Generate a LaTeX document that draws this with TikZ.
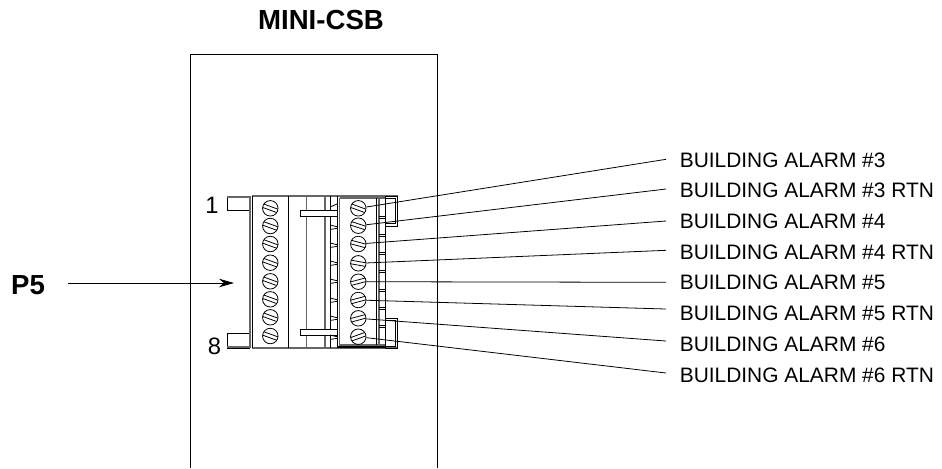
\documentclass[tikz,border=0pt]{standalone}
\usepackage{fontspec}
\setmainfont{Liberation Sans}
\usetikzlibrary{arrows.meta}
\begin{document}
\begin{tikzpicture}[x=0.02cm,y=-0.02cm,
    screwnode/.style={circle, draw=black, line width=0.45pt, inner sep=0pt, minimum size=0.31cm},
    alarmnode/.style={anchor=west, inner sep=0pt, font=\fontsize{11.9}{12}\selectfont},
    titlenode/.style={inner sep=0pt, font=\fontsize{15.7}{16}\selectfont\bfseries},
    numnode/.style={inner sep=0pt, font=\fontsize{13.5}{14}\selectfont},
    thin line/.style={line width=0.45pt},
    grey line/.style={line width=0.7pt, draw=black!60}]

    \useasboundingbox (0,0) rectangle (942,468);

    % board
    \draw[thin line] (190,468) -- (190,54) -- (437,54) -- (437,468);
    \node[titlenode] (title) at (321,19.5) {MINI-CSB};

    % mounting tabs
    \draw[thin line] (250,196) -- (227,196) -- (227,210.5) -- (250,210.5);
    \draw[thin line] (250,333.5) -- (227,333.5) -- (227,348) -- (250,348);
    \draw[grey line] (227,197) -- (250,197) (227,347) -- (250,347);
    \node[numnode] (n1) at (212,205.5) {1};
    \node[numnode] (n8) at (214.5,346) {8};

    % connector body
    \draw[grey line, line width=1.1pt] (250,196) -- (250,348);
    \draw[grey line] (251.5,196) -- (398,196) (251.5,348) -- (398,348);
    \draw[thin line] (252,196) -- (252,348);
    \draw[thin line] (288.3,196) -- (288.3,348);
    \draw[grey line] (306.7,196) -- (306.7,348);
    \draw[grey line] (325,196) -- (325,348);
    \draw[thin line] (330,196) -- (330,348);
    \draw[thin line] (337,196) -- (337,348);
    \draw[grey line] (339.5,198) -- (339.5,345) -- (385,345);
    \draw[grey line] (339.5,198) -- (385,198);
    \draw[line width=0.9pt] (337,347) -- (385,347);
    \draw[thin line] (376.7,198) -- (376.7,345);
    \draw[grey line] (379,198) -- (379,345);
    \draw[thin line] (385,196) -- (385,348);

    % clips
    \draw[thin line, fill=white] (337,210) -- (300,210) -- (300,216) -- (337,216);
    \draw[thin line, fill=white] (337,329.5) -- (300,329.5) -- (300,335.7) -- (337,335.7);

    % side latches
    \draw[thin line] (385,196) -- (397.7,196) -- (397.7,226) -- (385,226);
    \draw[thin line] (385,198) -- (395.5,198) -- (395.5,223.5) -- (385,223.5);
    \draw[thin line] (385,318) -- (397.7,318) -- (397.7,348) -- (385,348);
    \draw[thin line] (385,320.5) -- (395.5,320.5) -- (395.5,346) -- (385,346);

    % notches
    \draw[thin line] (330,207) -- (337,204);
    \foreach \y in {226,244,262,280,299,317,336} {
        \draw[thin line] (330,\y-1) -- (337,\y+0.7);
        \draw[thin line] (330,\y+3.5) -- (337,\y+2.3);
    }
    \foreach \y in {216,234,252,270,289,307,325} {
        \draw[thin line] (379,\y) -- (385,\y);
        \draw[thin line] (379,\y+2.5) -- (385,\y+2.5);
    }

    % left screws
    \foreach \y [count=\ni] in {208.3,226,244,262.7,281.3,299.3,317.3,336} {
        \node[screwnode] (l\ni) at (270.3,\y) {};
        \begin{scope}[shift={(l\ni.center)}, rotate=-20]
            \draw[thin line] (-7.4,-1.8) -- (7.4,-1.8) (-7.4,1.8) -- (7.4,1.8);
        \end{scope}
    }

    % right screws
    \foreach \y/\a [count=\ni] in {208.3/-20,225.7/-18,244/-15,263.3/-10,281.7/15,300/15,318.3/15,336.7/20} {
        \node[screwnode] (r\ni) at (358.3,\y) {};
        \begin{scope}[shift={(r\ni.center)}, rotate=\a]
            \draw[thin line] (-7.4,-1.8) -- (7.4,-1.8) (-7.4,1.8) -- (7.4,1.8);
        \end{scope}
    }

    % wires and labels
    \foreach \y/\ly/\t [count=\ni] in {159.3/160/{BUILDING ALARM \#3},189/190/{BUILDING ALARM \#3 RTN},221/221/{BUILDING ALARM \#4},250.3/252/{BUILDING ALARM \#4 RTN},282.3/282/{BUILDING ALARM \#5},309/313/{BUILDING ALARM \#5 RTN},341/344/{BUILDING ALARM \#6},373/375/{BUILDING ALARM \#6 RTN}} {
        \coordinate (w\ni) at (666,\y);
        \node[alarmnode] (a\ni) at (679.5,\ly) {\t};
        \draw[thin line] (r\ni) -- (w\ni);
    }

    % pointer
    \node[titlenode] (p5) at (28,285.5) {P5};
    \coordinate (p5end) at (234,283);
    \draw[thin line, -{Stealth[length=0.3cm,width=0.17cm]}] (68,283) -- (p5end);

\end{tikzpicture}
\end{document}
